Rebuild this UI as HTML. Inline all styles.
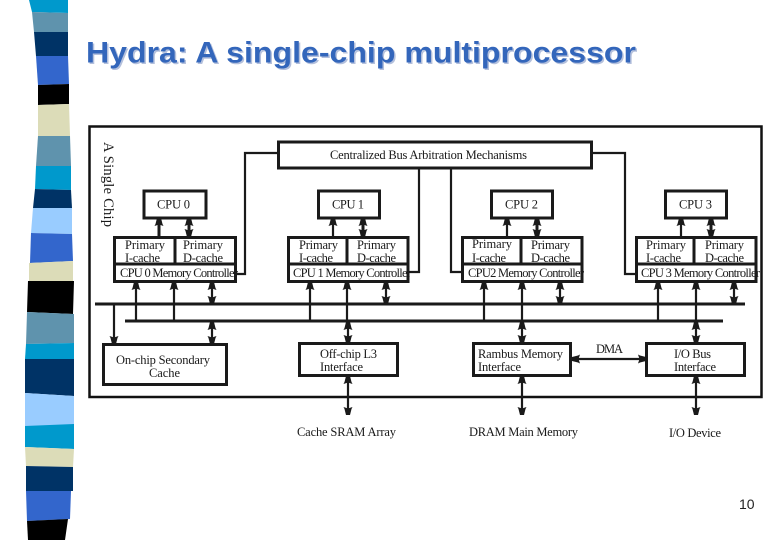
<!DOCTYPE html>
<html lang="en">
<head>
<meta charset="utf-8">
<title>Hydra: A single-chip multiprocessor</title>
<style>
html,body{margin:0;padding:0;background:#fff;width:780px;height:540px;overflow:hidden}
svg{display:block}
.t{font-family:"Liberation Serif",serif;font-size:12.5px;fill:#1a1a1a}
.title{font-family:"Liberation Sans",sans-serif;font-weight:bold;font-size:30px}
.b{fill:#fff;stroke:#1a1a1a;stroke-width:3}
.l{fill:none;stroke:#1a1a1a;stroke-width:2.2}
.l3{fill:none;stroke:#1a1a1a;stroke-width:3}
</style>
</head>
<body>
<svg width="780" height="540" viewBox="0 0 780 540" xmlns="http://www.w3.org/2000/svg">
<defs>
<marker id="a" markerUnits="userSpaceOnUse" markerWidth="9" markerHeight="10" refX="8" refY="5" orient="auto-start-reverse">
<path d="M0,0.5 L2,1.5 L8,3 L8,7 L2,8.5 L0,9.5 L1.5,5 Z" fill="#1a1a1a"/>
</marker>
</defs>

<!-- stripe -->
<polygon fill="#0099cc" points="29,0 68,0 68,13 32,12"/>
<polygon fill="#5f93ad" points="32,12 68,13 68,32 34,32"/>
<polygon fill="#003366" points="34,32 68,32 68,56 36,56"/>
<polygon fill="#3366cc" points="36,56 68,56 69,84 38,85"/>
<polygon fill="#000000" points="38,85 69,84 69,104 38,105"/>
<polygon fill="#dcdcb8" points="38,105 69,104 70,136 38,136"/>
<polygon fill="#5f93ad" points="38,136 70,136 71,166 36,166"/>
<polygon fill="#0099cc" points="36,166 71,166 71,190 35,189"/>
<polygon fill="#003366" points="35,189 71,190 72,208 33,208"/>
<polygon fill="#99ccff" points="33,208 72,208 72,234 31,233"/>
<polygon fill="#3366cc" points="31,233 72,234 73,261 30,263"/>
<polygon fill="#dcdcb8" points="29,263 73,261 73,281 29,281"/>
<polygon fill="#000000" points="28,281 74,281 73,314 27,312"/>
<polygon fill="#5f93ad" points="27,312 74,314 74,343 26,344"/>
<polygon fill="#0099cc" points="26,344 74,343 74,359 25,359"/>
<polygon fill="#003366" points="25,359 74,359 74,396 25,393"/>
<polygon fill="#99ccff" points="25,393 74,396 74,426 25,426"/>
<polygon fill="#0099cc" points="25,426 74,424 74,449 25,447"/>
<polygon fill="#dcdcb8" points="25,447 74,449 73,467 26,466"/>
<polygon fill="#003366" points="26,466 73,467 73,491 26,491"/>
<polygon fill="#3366cc" points="26,491 71,491 70,519 27,521"/>
<polygon fill="#000000" points="27,521 68,519 65,540 28,540"/>

<!-- title -->
<text class="title" x="87.5" y="64" fill="#b4c0dc" textLength="550" lengthAdjust="spacingAndGlyphs">Hydra: A single-chip multiprocessor</text>
<text class="title" x="86" y="62.5" fill="#3366bb" textLength="550" lengthAdjust="spacingAndGlyphs">Hydra: A single-chip multiprocessor</text>

<!-- outer -->
<rect x="89.5" y="126.5" width="672" height="270.5" fill="#fff" stroke="#111" stroke-width="2.5"/>

<!-- arbitration wires -->
<path class="l" d="M278,153 H245 V274 H236"/>
<path class="l" d="M592,153 H625 V274 H636"/>
<path class="l" d="M419,168 V272 H408"/>
<path class="l" d="M451,168 V272 H462"/>

<!-- buses -->
<path class="l3" d="M95,304 H745"/>
<path class="l3" d="M125,321 H723"/>

<!-- arbitration box -->
<rect class="b" x="278.5" y="142" width="313" height="26"/>

<!-- CPUs -->
<rect class="b" x="144" y="191" width="62" height="27"/>
<rect class="b" x="318.5" y="191" width="61" height="27"/>
<rect class="b" x="491.5" y="191" width="61" height="27"/>
<rect class="b" x="665.5" y="191" width="61" height="27"/>

<!-- CPU-cache arrows -->
<path class="l3" d="M159,237 V218" marker-end="url(#a)"/>
<path class="l3" d="M189,237 V218" marker-start="url(#a)" marker-end="url(#a)"/>
<path class="l" d="M333,237 V218" marker-end="url(#a)"/>
<path class="l3" d="M363,237 V218" marker-start="url(#a)" marker-end="url(#a)"/>
<path class="l" d="M507,237 V218" marker-end="url(#a)"/>
<path class="l3" d="M537,237 V218" marker-start="url(#a)" marker-end="url(#a)"/>
<path class="l" d="M681,237 V218" marker-end="url(#a)"/>
<path class="l3" d="M711,237 V218" marker-start="url(#a)" marker-end="url(#a)"/>

<!-- cache blocks -->
<rect class="b" x="114.5" y="237.5" width="121" height="44"/>
<path class="l3" d="M114,264 H236 M175,237 V264"/>
<rect class="b" x="288.5" y="237.5" width="119.5" height="44"/>
<path class="l3" d="M288,264 H408 M347,237 V264"/>
<rect class="b" x="462.5" y="237.5" width="119.5" height="44"/>
<path class="l3" d="M462,264 H582 M521,237 V264"/>
<rect class="b" x="636.5" y="237.5" width="119.5" height="44"/>
<path class="l3" d="M636,264 H756 M694,237 V264"/>

<!-- controller-bus arrows -->
<path class="l" d="M136,321 V282" marker-end="url(#a)"/>
<path class="l" d="M174,321 V282" marker-end="url(#a)"/>
<path class="l" d="M212,304 V282" marker-start="url(#a)" marker-end="url(#a)"/>
<path class="l" d="M310,321 V282" marker-end="url(#a)"/>
<path class="l" d="M347,321 V282" marker-end="url(#a)"/>
<path class="l" d="M386,304 V282" marker-start="url(#a)" marker-end="url(#a)"/>
<path class="l" d="M484,321 V282" marker-end="url(#a)"/>
<path class="l" d="M522,321 V282" marker-end="url(#a)"/>
<path class="l" d="M560,304 V282" marker-start="url(#a)" marker-end="url(#a)"/>
<path class="l" d="M658,321 V282" marker-end="url(#a)"/>
<path class="l" d="M696,321 V282" marker-end="url(#a)"/>
<path class="l" d="M734,304 V282" marker-start="url(#a)" marker-end="url(#a)"/>

<!-- lower arrows -->
<path class="l" d="M114,304 V344" marker-end="url(#a)"/>
<path class="l" d="M212,322 V344" marker-start="url(#a)" marker-end="url(#a)"/>
<path class="l" d="M348,322 V343" marker-start="url(#a)" marker-end="url(#a)"/>
<path class="l" d="M522,322 V343" marker-start="url(#a)" marker-end="url(#a)"/>
<path class="l" d="M696,322 V343" marker-start="url(#a)" marker-end="url(#a)"/>

<!-- lower boxes -->
<rect class="b" x="103.5" y="344.5" width="123" height="40"/>
<rect class="b" x="299.5" y="343.5" width="98" height="32"/>
<rect class="b" x="473.5" y="343.5" width="97" height="32"/>
<rect class="b" x="646.5" y="343.5" width="98" height="32"/>

<path class="l" d="M348,376 V415" marker-start="url(#a)" marker-end="url(#a)"/>
<path class="l" d="M522,376 V415" marker-start="url(#a)" marker-end="url(#a)"/>
<path class="l" d="M696,376 V415" marker-start="url(#a)" marker-end="url(#a)"/>
<path class="l" d="M572,359 H646" marker-start="url(#a)" marker-end="url(#a)"/>

<!-- labels -->
<text class="t" transform="translate(104,142) rotate(90)" textLength="85" style="font-size:14.5px">A Single Chip</text>
<text class="t" x="330" y="159" textLength="197">Centralized Bus Arbitration Mechanisms</text>

<text class="t" x="157" y="208.5" textLength="33">CPU 0</text>
<text class="t" x="332" y="208.5" textLength="32">CPU 1</text>
<text class="t" x="505" y="208.5" textLength="33">CPU 2</text>
<text class="t" x="679" y="208.5" textLength="33">CPU 3</text>

<text class="t" x="125" y="249" textLength="40">Primary</text>
<text class="t" x="183" y="249" textLength="40">Primary</text>
<text class="t" x="125" y="262" textLength="35">I-cache</text>
<text class="t" x="183" y="262" textLength="40">D-cache</text>
<text class="t" x="120" y="277" textLength="118">CPU 0 Memory Controller</text>

<text class="t" x="299" y="249" textLength="39">Primary</text>
<text class="t" x="357" y="249" textLength="39">Primary</text>
<text class="t" x="299" y="262" textLength="34">I-cache</text>
<text class="t" x="357" y="262" textLength="39">D-cache</text>
<text class="t" x="293" y="277" textLength="118">CPU 1 Memory Controller</text>

<text class="t" x="472" y="248" textLength="40">Primary</text>
<text class="t" x="531" y="249" textLength="39">Primary</text>
<text class="t" x="472" y="262" textLength="34">I-cache</text>
<text class="t" x="531" y="262" textLength="39">D-cache</text>
<text class="t" x="468" y="277" textLength="116">CPU2 Memory Controller</text>

<text class="t" x="646" y="249" textLength="40">Primary</text>
<text class="t" x="705" y="249" textLength="39">Primary</text>
<text class="t" x="646" y="262" textLength="35">I-cache</text>
<text class="t" x="705" y="262" textLength="39">D-cache</text>
<text class="t" x="641" y="277" textLength="119">CPU 3 Memory Controller</text>

<text class="t" x="116" y="364" textLength="94">On-chip Secondary</text>
<text class="t" x="149" y="377" textLength="31">Cache</text>
<text class="t" x="320" y="358" textLength="57">Off-chip L3</text>
<text class="t" x="320" y="371" textLength="43">Interface</text>
<text class="t" x="478" y="358" textLength="85">Rambus Memory</text>
<text class="t" x="478" y="371" textLength="43">Interface</text>
<text class="t" x="674" y="358" textLength="37">I/O Bus</text>
<text class="t" x="674" y="371" textLength="42">Interface</text>
<text class="t" x="596" y="353" textLength="27">DMA</text>
<text class="t" x="297" y="436" textLength="99">Cache SRAM Array</text>
<text class="t" x="469" y="436" textLength="109">DRAM Main Memory</text>
<text class="t" x="669" y="437" textLength="52">I/O Device</text>

<text x="739" y="509" font-family="'Liberation Sans',sans-serif" font-size="14" fill="#222">10</text>
</svg>
</body>
</html>
